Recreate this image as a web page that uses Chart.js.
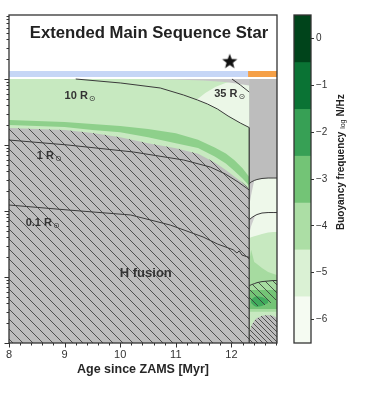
<!DOCTYPE html>
<html>
<head>
<meta charset="utf-8">
<script src="https://cdn.jsdelivr.net/npm/chart.js@4.4.1/dist/chart.umd.min.js"></script>
<style>
  html, body { margin: 0; padding: 0; background: #fff; }
  #wrap { position: relative; width: 366px; height: 393px; }
  #main { position: absolute; left: 0; top: 0; }
  #cbar { position: absolute; left: 280px; top: 0; }
</style>
</head>
<body>
<div id="wrap">
  <canvas id="main" width="366" height="393"></canvas>
  <canvas id="cbar" width="86" height="393"></canvas>
</div>
<script>
/*===============
data (age since ZAMS in Myr, y on a log axis)
====================*/
const xTicks = [8, 9, 10, 11, 12];
const starTop = 10;
const axisBottom = 0.001;

// main sequence
const msAge = [8.0, 8.5, 9.0, 9.5, 10.0, 10.5, 11.0, 11.4, 11.7, 11.9, 12.05, 12.2, 12.28, 12.32];
const bandTop = [2.392, 2.311, 2.231, 2.081, 1.941, 1.748, 1.504, 1.203, 0.920, 0.746, 0.593, 0.444, 0.364, 0.327];
const bandBottom = [2.009, 1.941, 1.867, 1.688, 1.557, 1.308, 1.065, 0.904, 0.667, 0.524, 0.407, 0.312, 0.264, 0.239];
const fusionTop = [1.810, 1.748, 1.688, 1.515, 1.313, 1.061, 0.891, 0.736, 0.543, 0.418, 0.333, 0.268, 0.233, 0.208];

const paleAge = [11.37, 11.53, 11.71, 11.89, 12.08, 12.32];
const paleTop = [4.81, 6.14, 7.56, 8.70, 9.49, 10];
const wedgeAge = [10.49, 10.99, 11.49, 11.89, 12.09, 12.32];
const wedgeBottom = [10, 9.79, 9.49, 9.00, 8.55, 7.98];

// radius contours
const r10Age = [9.20, 10.01, 10.72, 11.14, 11.39, 11.57, 11.75, 11.94, 12.16, 12.32];
const r10Val = [10, 8.70, 7.31, 5.72, 4.81, 4.18, 3.51, 2.75, 2.154, 1.84];
const r35Age = [12.01, 12.16, 12.32];
const r35Val = [10, 8.12, 6.35];
const r1Age = [8.0, 9.06, 10.24, 11.14, 11.62, 11.89, 12.12, 12.32];
const r1Val = [1.190, 1.0, 0.783, 0.593, 0.464, 0.364, 0.275, 0.208];
const r01Age = [8.0, 9.06, 10.19, 10.90, 11.49, 11.75, 12.03, 12.10, 12.14, 12.19, 12.32];
const r01Val = [0.1233, 0.1036, 0.0870, 0.0613, 0.0404, 0.0316, 0.0259, 0.0231, 0.0249, 0.0215, 0.0198];

// after the main sequence
const endMS = 12.32;
const rsAge = [12.32, 12.355, 12.41, 12.46, 12.55, 12.66, 12.75, 12.82];
const shellTop = [0.257, 0.275, 0.290, 0.300, 0.311, 0.316, 0.316, 0.316];
const shell2 = [0.0730, 0.0783, 0.0840, 0.0884, 0.0932, 0.0948, 0.0948, 0.0948];
const paleBottom2 = [0.0390, 0.0400, 0.0414, 0.0426, 0.0448, 0.0473, 0.0480, 0.0480];
const patchTop = [0.01686, 0.0259, 0.01686, 0.01576, 0.01369, 0.01189, 0.0112, 0.01077];
const patchBottom = 0.00298;
const greenTop = 0.00638;
const greenBottom = 0.00328;
const darkAge = [12.355, 12.41, 12.46, 12.55, 12.66];
const darkTop = [0.00452, 0.00497, 0.00513, 0.00497, 0.00452];
const darkBottom = [0.00405, 0.00364, 0.00352, 0.00364, 0.00405];
const hatch2Top = [0.00734, 0.00762, 0.00791, 0.00821, 0.00852, 0.00868, 0.00884, 0.00884];
const hatch2Bottom = [0.00405, 0.00391, 0.00371, 0.00364, 0.00364, 0.00391, 0.00420, 0.00452];
const coreAge = [12.32, 12.335, 12.37, 12.44, 12.55, 12.66, 12.75, 12.82];
const coreTop = [0.00108, 0.00157, 0.00193, 0.00234, 0.00258, 0.00266, 0.00258, 0.00240];
const fringe1Age = [12.32, 12.355, 12.41];
const fringe1Bottom = [0.1186, 0.1747, 0.290];
const fringe2Age = [12.32, 12.355, 12.43];
const fringe2Top = [0.0730, 0.0783, 0.086];
const fringe2Bottom = [0.0448, 0.0592, 0.086];

// phase bar and marker
const phaseAge = [8.0, 12.32, 12.82];
const phaseLow = 10.72, phaseHigh = 13.26;
const starAge = 11.97, starVal = 18.3;

// colour bar
const cbarLevels = [0, -1, -2, -3, -4, -5, -6];
const cbarColors = ['#00441b', '#0a7334', '#37a055', '#73c476', '#acdea5', '#daf1d4', '#f5fbf2'];

const FONT = '"Liberation Sans", Arial, Helvetica, sans-serif';

/*===============
helpers
====================*/
function at(v, i) { return Array.isArray(v) ? v[i] : v; }
function area(xs, top, bottom) {
    const pts = xs.map((x, i) => ({ x: x, y: at(top, i) }));
    for (let i = xs.length - 1; i >= 0; i--) pts.push({ x: xs[i], y: at(bottom, i) });
    return pts;
}
function pts(xs, ys) { return xs.map((x, i) => ({ x: x, y: ys[i] })); }

function makeHatch(bg, stroke, step) {
    const c = document.createElement('canvas');
    c.width = c.height = step;
    const g = c.getContext('2d');
    if (bg) { g.fillStyle = bg; g.fillRect(0, 0, step, step); }
    g.strokeStyle = stroke;
    g.lineWidth = 1;
    g.beginPath();
    g.moveTo(-1, -1); g.lineTo(step + 1, step + 1);
    g.moveTo(step - 1, -1); g.lineTo(step + 1, 1);
    g.moveTo(-1, step - 1); g.lineTo(1, step + 1);
    g.stroke();
    return g.createPattern(c, 'repeat');
}

function makeStar(r) {
    const c = document.createElement('canvas');
    c.width = c.height = 2 * r + 2;
    const g = c.getContext('2d');
    g.fillStyle = '#111';
    g.beginPath();
    for (let i = 0; i < 10; i++) {
        const rr = i % 2 ? r * 0.42 : r;
        const a = -Math.PI / 2 + i * Math.PI / 5;
        g.lineTo(r + 1 + rr * Math.cos(a), r + 1 + rr * Math.sin(a));
    }
    g.closePath();
    g.fill();
    return c;
}

const hatchGray = makeHatch('#bdbdbd', '#4f4f4f', 10);
const hatchCore = makeHatch('#bdbdbd', '#4f4f4f', 5);
const hatchOver = makeHatch(null, 'rgba(55,60,55,0.85)', 8);

/*===============
layers (back to front)
====================*/
const layers = [];
function addArea(data, color) {
    layers.push({ data: data, backgroundColor: color, borderWidth: 0, fill: 'shape', pointRadius: 0 });
}
function addLine(data, color, width) {
    layers.push({ data: data, borderColor: color, borderWidth: width, fill: false, pointRadius: 0 });
}

const paleBottom = r10Age.map((a, i) => ({ a: a, v: r10Val[i] })).filter(p => p.a >= 11.39);

addArea(area([8, 12.82], starTop, axisBottom), '#c7e9c0');
addArea(area(msAge, bandTop, bandBottom), '#8ed08b');
addArea(area(msAge, fusionTop, axisBottom), hatchGray);
addArea(pts(paleAge, paleTop).concat(paleBottom.reverse().map(p => ({ x: p.a, y: p.v }))), '#ebf7e7');
addArea(area(wedgeAge, starTop, wedgeBottom), '#c6c6c6');

addArea(area(rsAge, starTop, shellTop), '#bdbdbd');
addArea(area(rsAge, shellTop, paleBottom2), '#eef8ea');
addArea(area(fringe1Age, shellTop.slice(0, 3), fringe1Bottom), '#c9c9c9');
addArea(area(fringe2Age, fringe2Top, fringe2Bottom), '#cdcdcd');
addArea(area(rsAge, patchTop, patchBottom), '#a6dba0');
addArea(area(rsAge, greenTop, greenBottom), '#74c476');
addArea(area(darkAge, darkTop, darkBottom), '#41ab5d');
addArea(area(rsAge, hatch2Top, hatch2Bottom), hatchOver);
addArea(area(coreAge, coreTop, axisBottom), hatchCore);

addArea(area([phaseAge[0], phaseAge[1]], phaseHigh, phaseLow), '#c6d6f6');
addArea(area([phaseAge[1] - 0.02, phaseAge[2]], phaseHigh, phaseLow), '#f5a047');

addLine(pts(r10Age, r10Val), '#3a3a3a', 1);
addLine(pts(r35Age, r35Val), '#3a3a3a', 1);
addLine(pts(r1Age, r1Val), '#3a3a3a', 1);
addLine(pts(r01Age, r01Val), '#3a3a3a', 1);
addLine(pts(rsAge, shellTop), '#3a3a3a', 1);
addLine(pts(rsAge, shell2), '#3a3a3a', 1);
addLine(pts(rsAge, hatch2Top), '#3a3a3a', 1);
addLine([{ x: endMS, y: r10Val[r10Val.length - 1] }, { x: endMS, y: axisBottom }], '#333', 1.2);

layers.push({
    data: [{ x: starAge, y: starVal }],
    pointStyle: makeStar(8),
    pointRadius: 8,
    showLine: false
});

const datasets = layers.map((d, i) => Object.assign({ order: layers.length - i }, d));

/*===============
text on the plot
====================*/
const notes = [
    { text: '10 R', x: 9.00, y: 4.98, sun: true },
    { text: '35 R', x: 11.69, y: 5.34, sun: true },
    { text: '1 R', x: 8.50, y: 0.614, sun: true },
    { text: '0.1 R', x: 8.30, y: 0.0592, sun: true },
    { text: 'H fusion', x: 10.46, y: 0.0100, sun: false }
];

const framePlugin = {
    id: 'frame',
    afterDatasetsDraw(chart) {
        const { ctx, scales: { x, y } } = chart;
        ctx.save();
        ctx.fillStyle = '#333';
        ctx.textBaseline = 'alphabetic';
        notes.forEach(n => {
            const px = x.getPixelForValue(n.x), py = y.getPixelForValue(n.y);
            if (n.sun) {
                ctx.font = 'bold 11px ' + FONT;
                ctx.textAlign = 'left';
                ctx.fillText(n.text, px, py);
                const w = ctx.measureText(n.text).width;
                ctx.font = '8px "DejaVu Sans", sans-serif';
                ctx.fillText('\u2299', px + w + 1, py + 2);
            } else {
                ctx.font = 'bold 13px ' + FONT;
                ctx.textAlign = 'center';
                ctx.fillText(n.text, px, py);
            }
        });
        ctx.restore();
    },
    afterDraw(chart) {
        const { ctx, chartArea: a, scales: { x, y } } = chart;
        ctx.save();
        ctx.strokeStyle = '#333';
        ctx.lineWidth = 1;
        // y ticks (log)
        for (let e = -3; e <= 1; e++) {
            for (let k = 1; k <= 9; k++) {
                const v = k * Math.pow(10, e);
                if (v > y.max) break;
                const py = Math.round(y.getPixelForValue(v)) + 0.5;
                const len = k === 1 ? 4.5 : 2.5;
                ctx.beginPath();
                ctx.moveTo(a.left - len, py);
                ctx.lineTo(a.left, py);
                ctx.stroke();
            }
        }
        // x ticks
        for (let i = 0; ; i++) {
            const v = 8 + i * 0.2;
            if (v > x.max + 1e-9) break;
            const px = Math.round(x.getPixelForValue(v)) + 0.5;
            const len = i % 5 === 0 ? 4.5 : 2.5;
            ctx.beginPath();
            ctx.moveTo(px, a.bottom);
            ctx.lineTo(px, a.bottom + len);
            ctx.stroke();
        }
        // frame
        ctx.lineWidth = 1.3;
        ctx.strokeRect(a.left, a.top, a.right - a.left, a.bottom - a.top);

        // tick labels
        ctx.fillStyle = '#333';
        ctx.font = '11px ' + FONT;
        ctx.textAlign = 'center';
        ctx.textBaseline = 'middle';
        xTicks.forEach(t => ctx.fillText(String(t), x.getPixelForValue(t), 355));

        ctx.font = 'bold 12.5px ' + FONT;
        ctx.fillStyle = '#262626';
        ctx.fillText('Age since ZAMS [Myr]', (a.left + a.right) / 2, 370);

        ctx.font = 'bold 16.7px ' + FONT;
        ctx.fillStyle = '#222';
        ctx.textBaseline = 'alphabetic';
        ctx.fillText('Extended Main Sequence Star', 149, 37.5);
        ctx.restore();
    }
};

/*===============
main chart
====================*/
new Chart(document.getElementById('main'), {
    type: 'line',
    data: { datasets: datasets },
    options: {
        responsive: false,
        animation: false,
        events: [],
        layout: { padding: { left: 8, right: 89, top: 15, bottom: 50 } },
        plugins: { legend: { display: false }, tooltip: { enabled: false } },
        elements: { line: { tension: 0 } },
        scales: {
            x: { type: 'linear', min: 8, max: 12.82, display: false },
            y: { type: 'logarithmic', min: axisBottom, max: 93.3, display: false }
        }
    },
    plugins: [framePlugin]
});

/*===============
colour bar
====================*/
const cbarPlugin = {
    id: 'cbarFrame',
    afterDraw(chart) {
        const { ctx, chartArea: a } = chart;
        ctx.save();
        ctx.strokeStyle = '#333';
        ctx.lineWidth = 1.3;
        ctx.strokeRect(a.left, a.top, a.right - a.left, a.bottom - a.top);

        ctx.translate(61, 230);
        ctx.rotate(-Math.PI / 2);
        ctx.fillStyle = '#222';
        ctx.textAlign = 'left';
        ctx.textBaseline = 'middle';
        let cx = 0;
        ctx.font = 'bold 10px ' + FONT;
        ctx.fillText('Buoyancy frequency', cx, 0);
        cx += ctx.measureText('Buoyancy frequency ').width;
        ctx.font = '7px ' + FONT;
        ctx.fillText('log', cx, 2);
        cx += ctx.measureText('log').width + 3;
        ctx.font = 'bold 10px ' + FONT;
        ctx.fillText('N/Hz', cx, 0);
        ctx.restore();
    }
};

new Chart(document.getElementById('cbar'), {
    type: 'bar',
    data: {
        labels: [''],
        datasets: cbarLevels.map((v, i) => ({
            data: [[v - 0.5, v + 0.5]],
            backgroundColor: cbarColors[i],
            borderWidth: 0,
            grouped: false,
            barPercentage: 1,
            categoryPercentage: 1
        }))
    },
    options: {
        responsive: false,
        animation: false,
        events: [],
        layout: { padding: { left: 14, top: 15, bottom: 50, right: 0 } },
        plugins: { legend: { display: false }, tooltip: { enabled: false } },
        scales: {
            x: { display: false },
            y: {
                position: 'right',
                min: -6.5,
                max: 0.5,
                afterFit(scale) { scale.width = 55; },
                afterBuildTicks(scale) { scale.ticks = cbarLevels.map(v => ({ value: v })); },
                border: { display: false },
                grid: { drawOnChartArea: false, tickLength: 3, color: '#333', lineWidth: 1 },
                ticks: {
                    padding: 2,
                    color: '#333',
                    font: { size: 10, family: FONT },
                    callback: v => (v < 0 ? '\u2212' + Math.abs(v) : String(v))
                }
            }
        }
    },
    plugins: [cbarPlugin]
});
</script>
</body>
</html>
